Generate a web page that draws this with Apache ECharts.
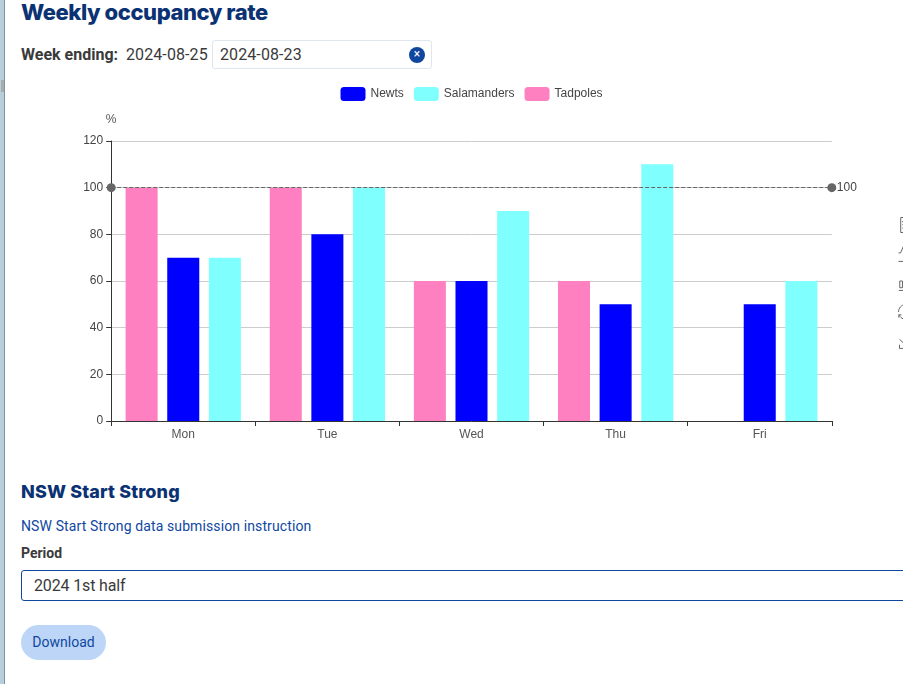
<!DOCTYPE html>
<html><head><meta charset="utf-8">
<script src="https://cdn.jsdelivr.net/npm/echarts@6/dist/echarts.min.js"></script>
<style>
html,body{margin:0;padding:0;width:903px;height:684px;overflow:hidden;background:#fff;font-family:Roboto,sans-serif;color:#3a3a3a}
.strip{position:absolute;left:0;top:0;width:4px;height:684px;background:#b9cedb;border-right:1px solid #7f93a3}
.notch{position:absolute;left:1px;top:80px;width:3px;height:12px;background:#a7adb0}
.t{position:absolute;white-space:nowrap}
#chart{position:absolute;left:21px;top:75px;width:900px;height:385px}
h1,h2{margin:0;position:absolute;font-family:Inter,sans-serif;font-weight:800;color:#0b3272;white-space:nowrap}
.input{position:absolute;left:212px;top:40px;width:218px;height:27px;border:1px solid #dfe6ef;border-radius:3px}
.clear{position:absolute;left:409px;top:47px;width:16px;height:16px;border-radius:50%;background:#0f479f;color:#fff;font-size:12px;line-height:15px;text-align:center}
.select{position:absolute;left:21px;top:570px;width:1000px;height:29px;border:1px solid #0f479f;border-radius:3px}
.btn{position:absolute;left:21px;top:625px;width:85px;height:35px;border-radius:18px;background:#bdd6f7;color:#0f479f;font-size:14px;line-height:34px;text-align:center}
</style></head><body>
<div class="strip"></div><div class="notch"></div>
<h1 style="left:21px;top:-3px;font-size:22px;line-height:30px;letter-spacing:-.43px">Weekly occupancy rate</h1>
<div class="t" style="left:21px;top:45px;font-size:16px;font-weight:700;line-height:19px">Week ending:</div>
<div class="t" style="left:126px;top:45px;font-size:16px;line-height:19px;letter-spacing:.1px">2024-08-25</div>
<div class="input"></div>
<div class="t" style="left:220px;top:45px;font-size:16px;line-height:19px;letter-spacing:.1px">2024-08-23</div>
<div class="clear">×</div>
<div id="chart"></div>
<h2 style="left:21px;top:480px;font-size:18px;line-height:24px;letter-spacing:.13px">NSW Start Strong</h2>
<div class="t" style="left:21px;top:517px;font-size:14px;line-height:18px;color:#0f479f;letter-spacing:.11px">NSW Start Strong data submission instruction</div>
<div class="t" style="left:21px;top:544px;font-size:14px;font-weight:700;line-height:18px">Period</div>
<div class="select"></div>
<div class="t" style="left:34px;top:576px;font-size:16px;line-height:19px;letter-spacing:-.15px">2024 1st half</div>
<div class="btn">Download</div>
<script>
const days = ['Mon','Tue','Wed','Thu','Fri'];
const legendOrder = ['Newts','Salamanders','Tadpoles'];
const tadpoles = [100,100,60,60,null];
const newts = [70,80,60,50,50];
const salamanders = [70,100,90,110,60];
const target = 100;
const yTicks = {min:0,max:120,interval:20};
const barStyle = {barCategoryGap:'20%',barGap:'30%'};
const chart = echarts.init(document.getElementById('chart'));
chart.setOption({
  animation:false,
  textStyle:{fontFamily:'Liberation Sans',fontSize:12},
  legend:{data:legendOrder,top:7,left:314.5,itemWidth:25,itemHeight:14,itemGap:10,textStyle:{color:'#444',fontSize:12}},
  toolbox:{show:true,orient:'vertical',left:860,top:125,itemSize:15,itemGap:9,iconStyle:{borderColor:'#666'},
    feature:{dataView:{show:true},magicType:{show:true,type:['line','bar']},restore:{show:true},saveAsImage:{show:true}}},
  grid:{left:90.2,right:89.2,top:66,bottom:39,containLabel:false},
  xAxis:{type:'category',data:days,axisLine:{lineStyle:{color:'#333'}},axisTick:{show:true,alignWithLabel:false,interval:0,lineStyle:{color:'#333'},length:5},axisLabel:{color:'#555',fontSize:12,margin:8}},
  yAxis:{type:'value',min:yTicks.min,max:yTicks.max,interval:yTicks.interval,name:'%',nameGap:15,nameTextStyle:{color:'#555'},
    axisLine:{show:true,lineStyle:{color:'#333'}},axisTick:{show:true,lineStyle:{color:'#333'},length:5},axisLabel:{color:'#444',fontSize:12,margin:8},splitLine:{lineStyle:{color:'#ccc'}}},
  series:[
    Object.assign({name:'Tadpoles',type:'bar',data:tadpoles,itemStyle:{color:'#ff80c0'},
     markLine:{silent:true,symbol:['circle','circle'],symbolSize:9,precision:0,lineStyle:{color:'#666',type:'dashed',width:1},label:{color:'#444',fontSize:12},itemStyle:{color:'#666'},data:[{yAxis:target}]}},barStyle),
    Object.assign({name:'Newts',type:'bar',data:newts,itemStyle:{color:'#0000ff'}},barStyle),
    Object.assign({name:'Salamanders',type:'bar',data:salamanders,itemStyle:{color:'#80ffff'}},barStyle)
  ]
});
</script>
</body></html>
